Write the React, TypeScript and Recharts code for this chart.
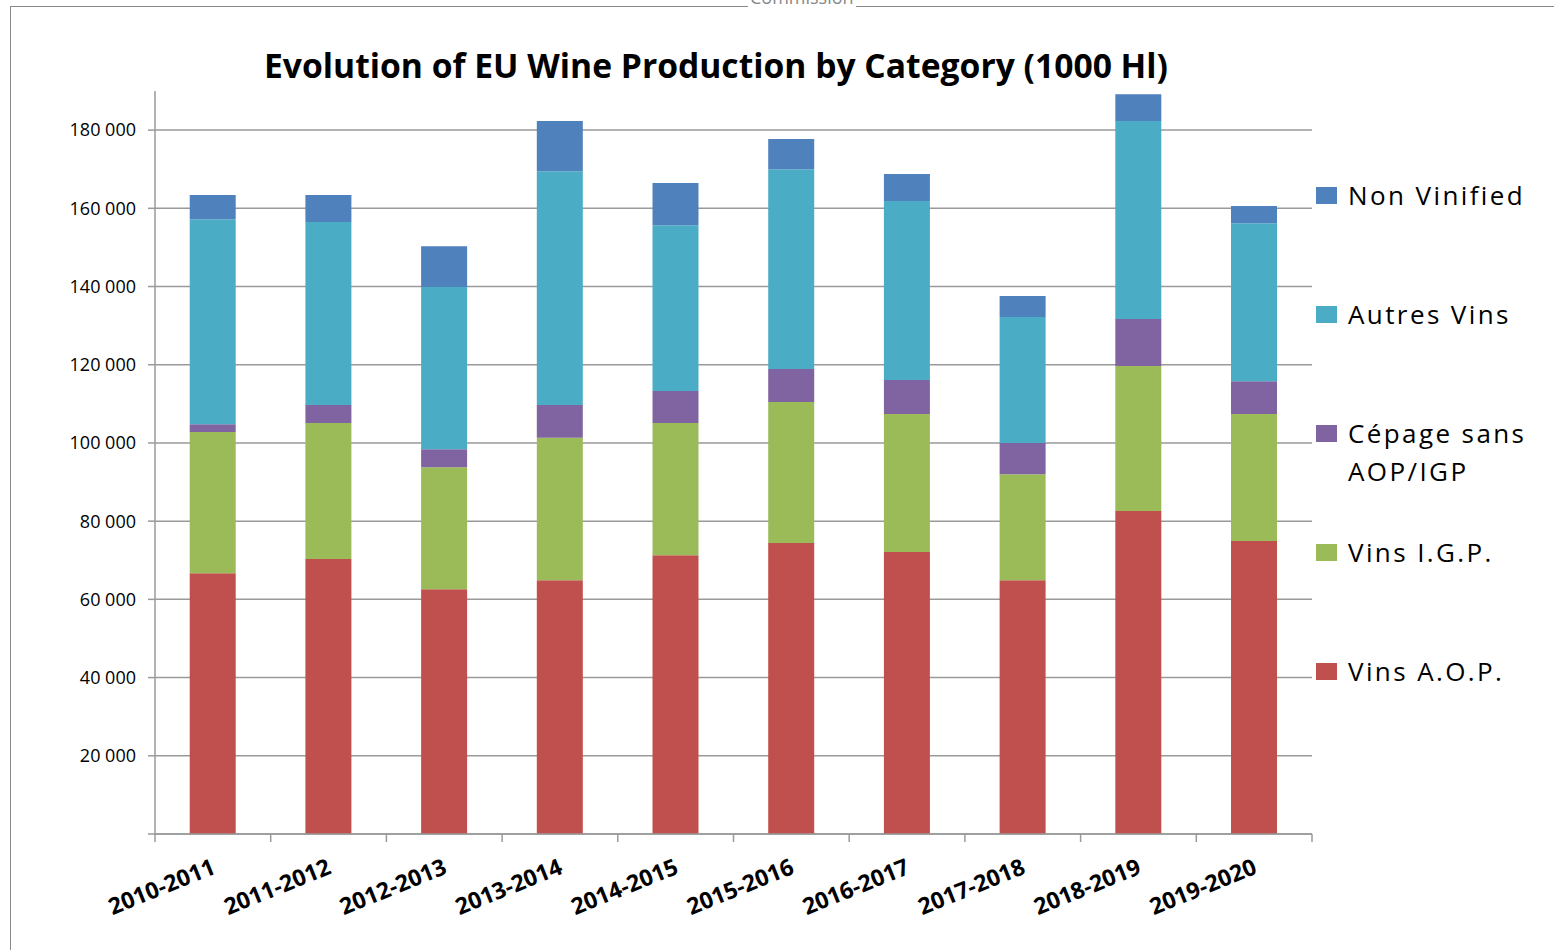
import React from 'react'
import { BarChart, Bar, XAxis, YAxis, CartesianGrid } from 'recharts'

const seasons = [
  '2010-2011', '2011-2012', '2012-2013', '2013-2014', '2014-2015',
  '2015-2016', '2016-2017', '2017-2018', '2018-2019', '2019-2020',
]

// values in 1000 hl, bottom of the stack first
const vinsAOP = [66700, 70300, 62600, 64900, 71300, 74400, 72100, 64900, 82600, 74900]
const vinsIGP = [36100, 34800, 31200, 36400, 33800, 36100, 35300, 27100, 37100, 32500]
const cepageSans = [2000, 4600, 4600, 8400, 8200, 8400, 8700, 8000, 12000, 8400]
const autresVins = [52400, 46800, 41500, 59800, 42400, 51100, 45800, 32200, 50600, 40400]
const nonVinified = [6200, 6900, 10400, 12800, 10800, 7700, 6900, 5400, 6900, 4400]

const yTicks = [0, 20000, 40000, 60000, 80000, 100000, 120000, 140000, 160000, 180000]

const seriesKeys = ['aop', 'igp', 'cepage', 'autres', 'nonVin']
const seriesNames = ['Vins A.O.P.', 'Vins I.G.P.', 'Cépage sans AOP/IGP', 'Autres Vins', 'Non Vinified']

const colors: Record<string, string> = {
  aop: '#C0504D',
  igp: '#9BBB59',
  cepage: '#8064A2',
  autres: '#4BACC6',
  nonVin: '#4F81BD',
}

const data = seasons.map((season, i) => ({
  season,
  aop: vinsAOP[i],
  igp: vinsIGP[i],
  cepage: cepageSans[i],
  autres: autresVins[i],
  nonVin: nonVinified[i],
}))

const W = 1554
const H = 950
const PLOT_LEFT = 155
const PLOT_RIGHT = 1312
const PLOT_TOP = 91
const AXIS_Y = 834
const BAND = (PLOT_RIGHT - PLOT_LEFT) / seasons.length
const GRID = '#9a9a9a'

const fmt = (v: number) => (v === 0 ? '' : String(v).replace(/\B(?=(\d{3})+(?!\d))/g, ' '))

const SeasonTick = (props: any) => {
  const { x, payload, index } = props
  const tx = x + 4
  const ty = AXIS_Y + 39
  return (
    <g>
      {index === 0 && (
        <line x1={x - BAND / 2} y1={AXIS_Y} x2={x - BAND / 2} y2={AXIS_Y + 8} stroke={GRID} strokeWidth={1.5} />
      )}
      <line x1={x + BAND / 2} y1={AXIS_Y} x2={x + BAND / 2} y2={AXIS_Y + 8} stroke={GRID} strokeWidth={1.5} />
      <text
        x={tx}
        y={ty}
        textAnchor="end"
        transform={`rotate(-22, ${tx}, ${ty})`}
        fontFamily="'Open Sans', sans-serif"
        fontWeight={700}
        fontSize={23}
        fill="#000"
      >
        {payload.value}
      </text>
    </g>
  )
}

export default function App() {
  const legendOrder = [...seriesKeys.keys()].reverse()
  return (
    <div style={{ position: 'absolute', left: 0, top: 0, width: W, height: H, background: '#fff', overflow: 'hidden' }}>
      <div
        style={{
          position: 'absolute', left: 10, top: 6, width: W + 50, height: H + 50,
          borderTop: '1px solid #8a8a8a', borderLeft: '1px solid #8a8a8a',
        }}
      />
      <div
        style={{
          position: 'absolute', left: 748, top: -13, fontFamily: "'Open Sans', sans-serif",
          fontSize: 18, color: '#888', background: '#fff', padding: '0 2px', lineHeight: '20px',
        }}
      >
        Commission
      </div>
      <svg width={W} height={100} style={{ position: 'absolute', left: 0, top: 0 }}>
        <text
          x={716}
          y={78}
          textAnchor="middle"
          textLength={904}
          lengthAdjust="spacingAndGlyphs"
          fontFamily="'Open Sans', sans-serif"
          fontWeight={700}
          fontSize={34}
          fill="#000"
        >
          Evolution of EU Wine Production by Category (1000 Hl)
        </text>
      </svg>
      <div style={{ position: 'absolute', left: 0, top: 0 }}>
        <BarChart
          width={W}
          height={H}
          data={data}
          margin={{ top: PLOT_TOP, right: W - PLOT_RIGHT, left: 0, bottom: 0 }}
          barCategoryGap="30%"
        >
          <CartesianGrid vertical={false} horizontalValues={yTicks} syncWithTicks stroke={GRID} strokeWidth={1.5} />
          <XAxis
            dataKey="season"
            height={H - AXIS_Y}
            interval={0}
            axisLine={{ stroke: GRID, strokeWidth: 1.5 }}
            tickLine={false}
            tick={<SeasonTick />}
          />
          <YAxis
            width={PLOT_LEFT}
            domain={[0, 190000]}
            allowDataOverflow
            ticks={yTicks}
            tickFormatter={fmt}
            tickSize={7}
            tickMargin={12}
            axisLine={{ stroke: GRID, strokeWidth: 1.5 }}
            tickLine={{ stroke: GRID, strokeWidth: 1.5 }}
            tick={{ fontFamily: "'Open Sans', sans-serif", fontSize: 18, fill: '#000' }}
          />
          {seriesKeys.map((k, i) => (
            <Bar key={k} dataKey={k} name={seriesNames[i]} stackId="a" fill={colors[k]} isAnimationActive={false} />
          ))}
        </BarChart>
      </div>
      <div style={{ position: 'absolute', left: 1316, top: 176, width: 236 }}>
        {legendOrder.map((i) => (
          <div key={seriesKeys[i]} style={{ display: 'flex', alignItems: 'flex-start', height: 119 }}>
            <div style={{ width: 21, height: 17, marginTop: 11, background: colors[seriesKeys[i]], flexShrink: 0 }} />
            <div
              style={{
                marginLeft: 11, width: 195, fontFamily: "'Open Sans', sans-serif", fontSize: 26,
                letterSpacing: 2.4, lineHeight: '38px', color: '#000',
              }}
            >
              {seriesNames[i]}
            </div>
          </div>
        ))}
      </div>
    </div>
  )
}
